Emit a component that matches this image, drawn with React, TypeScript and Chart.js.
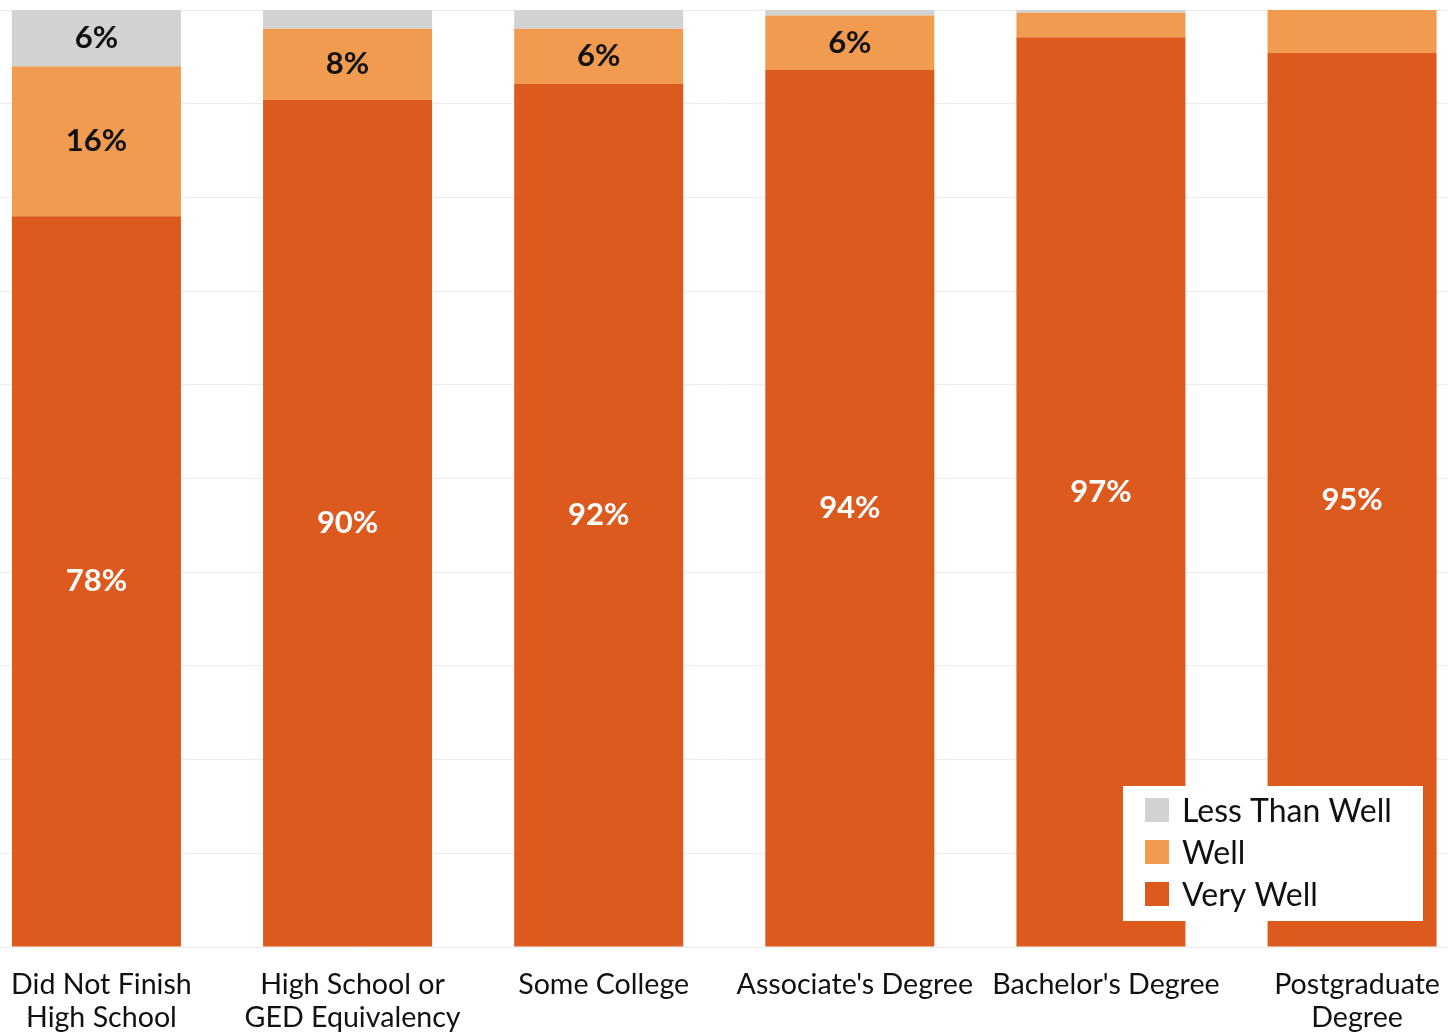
import React, { useEffect, useRef } from "react";
import { Chart, registerables } from "chart.js";

Chart.register(...registerables);

const categories: (string | string[])[] = [
  ["Did Not Finish", "High School"],
  ["High School or", "GED Equivalency"],
  "Some College",
  "Associate's Degree",
  "Bachelor's Degree",
  ["Postgraduate", "Degree"],
];

const veryWell = [78, 90.4, 92.1, 93.6, 97.1, 95.4];
const well = [16, 7.6, 5.9, 5.8, 2.6, 4.6];
const lessThanWell = [6, 2, 2, 0.6, 0.3, 0];

const seriesNames = ["Very Well", "Well", "Less Than Well"];
const seriesColors = ["#DC5A1E", "#F19B51", "#D2D2D2"];
const labelColors = ["#FFFFFF", "#111111", "#111111"];
const labelThreshold = 5;

const FONT = "Lato, 'DejaVu Sans', sans-serif";

const dataLabelsPlugin = {
  id: "segmentLabels",
  afterDatasetsDraw(chart: any) {
    const ctx = chart.ctx;
    ctx.save();
    ctx.font = `bold 31px ${FONT}`;
    ctx.textAlign = "center";
    ctx.textBaseline = "middle";
    chart.data.datasets.forEach((ds: any, di: number) => {
      const meta = chart.getDatasetMeta(di);
      meta.data.forEach((el: any, i: number) => {
        const v = ds.data[i].y;
        if (v < labelThreshold) return;
        ctx.fillStyle = labelColors[di];
        ctx.fillText(`${Math.round(v)}%`, el.x, (el.y + el.base) / 2);
      });
    });
    ctx.restore();
  },
};

const legendPlugin = {
  id: "boxLegend",
  afterDraw(chart: any) {
    const ctx = chart.ctx;
    const area = chart.chartArea;
    const items = chart.data.datasets
      .map((ds: any) => ({ text: ds.label, color: ds.backgroundColor }))
      .reverse();
    const boxW = 300;
    const rowH = 42;
    const boxH = 135;
    const left = area.right - 24 - boxW;
    const top = area.bottom - 26 - boxH;
    ctx.save();
    ctx.fillStyle = "#FFFFFF";
    ctx.fillRect(left, top, boxW, boxH);
    ctx.font = `32px ${FONT}`;
    ctx.textBaseline = "middle";
    ctx.textAlign = "left";
    items.forEach((it: any, i: number) => {
      const cy = top + 24 + i * rowH;
      ctx.fillStyle = it.color;
      ctx.fillRect(left + 22, cy - 12, 24, 24);
      ctx.fillStyle = "#111111";
      ctx.fillText(it.text, left + 59, cy + 2);
    });
    ctx.restore();
  },
};

export default function App() {
  const canvasRef = useRef<HTMLCanvasElement | null>(null);

  useEffect(() => {
    if (!canvasRef.current) return;
    const seriesValues = [veryWell, well, lessThanWell];
    const chart = new Chart(canvasRef.current, {
      type: "bar",
      data: {
        datasets: seriesValues.map((vals, si) => ({
          label: seriesNames[si],
          data: vals.map((v, i) => ({ x: i, y: v })),
          backgroundColor: seriesColors[si],
          borderWidth: 0,
          categoryPercentage: 1,
          barPercentage: 0.673,
        })),
      },
      options: {
        animation: false,
        responsive: false,
        maintainAspectRatio: false,
        layout: { padding: { top: 10, right: 8, left: 0, bottom: 0 } },
        plugins: {
          legend: { display: false },
          tooltip: { enabled: false },
        },
        scales: {
          x: {
            type: "linear",
            stacked: true,
            offset: false,
            bounds: "data",
            min: -0.384,
            max: 5.378,
            grid: { display: false, drawTicks: false, offset: false },
            border: { display: false },
            afterBuildTicks: (scale: any) => {
              scale.ticks = categories.map((_, i) => ({ value: i }));
            },
            afterFit: (scale: any) => {
              scale.height = 87;
              scale.paddingLeft = 0;
              scale.paddingRight = 0;
            },
            ticks: {
              stepSize: 1,
              includeBounds: false,
              autoSkip: false,
              maxRotation: 0,
              minRotation: 0,
              padding: 21,
              labelOffset: 5,
              color: "#111111",
              font: { family: FONT, size: 28.6, lineHeight: 1.16 },
              callback: (value: any) => {
                const idx = Math.round(Number(value));
                return categories[idx] ?? "";
              },
            },
          },
          y: {
            stacked: true,
            min: 0,
            max: 100,
            ticks: { display: false, stepSize: 10 },
            grid: { color: "#ECECEC", lineWidth: 1, drawTicks: false },
            border: { display: false },
            afterFit: (scale: any) => {
              scale.width = 0;
            },
          },
        },
      },
      plugins: [dataLabelsPlugin, legendPlugin],
    } as any);
    return () => chart.destroy();
  }, []);

  return (
    <div style={{ position: "absolute", left: 0, top: 0, width: 1455, height: 1034, background: "#fff" }}>
      <canvas ref={canvasRef} width={1455} height={1034} style={{ display: "block" }} />
    </div>
  );
}
